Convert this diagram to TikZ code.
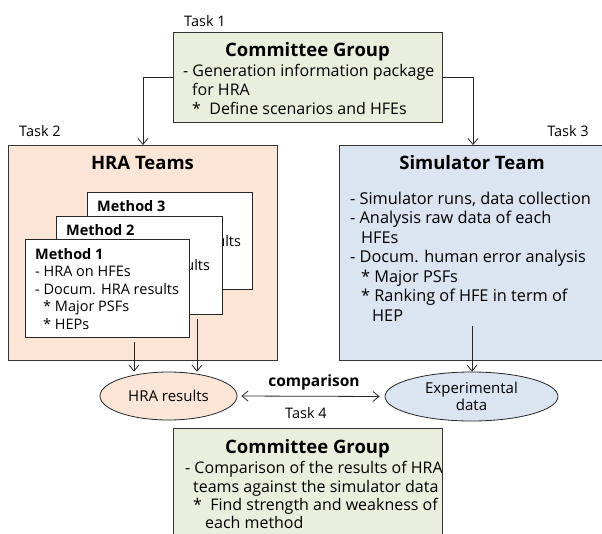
\documentclass[tikz,border=0pt]{standalone}
\usepackage{fontspec}
\setmainfont{Open Sans}
\usetikzlibrary{arrows.meta,shapes.geometric}
\definecolor{peach}{HTML}{FBE5D6}
\definecolor{lblue}{HTML}{DBE4F1}
\definecolor{lgreen}{HTML}{EAEEDC}
\newcommand\myfs[2]{\fontsize{#1}{#2}\selectfont}
\begin{document}
\begin{tikzpicture}[x=1pt,y=-1pt,
  box/.style={draw=black!80, line width=0.9pt, anchor=north west, inner sep=0pt},
  mbox/.style={draw=black!85, line width=0.8pt, fill=white, anchor=north west, inner sep=0pt},
  body/.style={align=left, anchor=north west, inner sep=0pt, font=\myfs{16}{18.6}},
  mbody/.style={align=left, anchor=north west, inner sep=0pt, font=\myfs{14.5}{17.5}},
  title/.style={anchor=base, inner sep=0pt, font=\bfseries\myfs{18.5}{22}},
  lbl/.style={anchor=base, inner sep=0pt, font=\myfs{14.5}{17}},
  arr/.style={-{Straight Barb[length=6pt,width=10pt]}, line width=0.8pt, draw=black!85},
  darr/.style={{Straight Barb[length=6pt,width=10pt]}-{Straight Barb[length=6pt,width=10pt]}, line width=0.8pt, draw=black!85},
  ell/.style={ellipse, draw=black!85, line width=0.8pt, inner sep=0pt, align=center, font=\myfs{15}{17}}
]
\useasboundingbox (0,0) rectangle (602,533);
\clip (0,0) rectangle (602,533);

% Task 1 box
\node[box, fill=lgreen, minimum width=269pt, minimum height=90pt] (top) at (173,32) {};
\node[lbl] (t1) at (205,26) {Task 1};
\node[title] (toptitle) at (307.5,56.6) {Committee Group};
\node[body] (topbody) at (183,64.5) {- Generation information package\\\hspace*{9pt}for HRA\\\hspace*{9pt}*\ \ Define scenarios and HFEs};

% HRA teams
\node[box, fill=peach, minimum width=269pt, minimum height=215pt] (hra) at (8,145) {};
\node[lbl] (t2) at (40,136) {Task 2};
\node[title] (hratitle) at (142.5,169.6) {HRA Teams};

\node[mbox, minimum width=165pt, minimum height=97pt] (m3) at (87,192) {};
\node[mbody] (m3t) at (97,200) {\textbf{Method 3}\\- HRA on HFEs\\- Docum. HRA results\\\hspace*{8pt}* Major PSFs\\\hspace*{8pt}* HEPs};
\node[mbox, minimum width=166pt, minimum height=98pt] (m2) at (56,216) {};
\node[mbody] (m2t) at (66,224) {\textbf{Method 2}\\- HRA on HFEs\\- Docum. HRA results\\\hspace*{8pt}* Major PSFs\\\hspace*{8pt}* HEPs};
\node[mbox, minimum width=164pt, minimum height=98pt] (m1) at (25,239) {};
\node[mbody] (m1t) at (35,248) {\textbf{Method 1}\\- HRA on HFEs\\- Docum. HRA results\\\hspace*{8pt}* Major PSFs\\\hspace*{8pt}* HEPs};

% Simulator team
\node[box, fill=lblue, minimum width=267pt, minimum height=215pt] (sim) at (339,145) {};
\node[lbl] (t3) at (568,136) {Task 3};
\node[title] (simtitle) at (472,169.6) {Simulator Team};
\node[body, font=\myfs{16.3}{19.5}] (simbody) at (350,191.5) {- Simulator runs, data collection\\- Analysis raw data of each\\\hspace*{11pt}HFEs\\- Docum. human error analysis\\\hspace*{11pt}* Major PSFs\\\hspace*{11pt}* Ranking of HFE in term of\\\hspace*{22pt}HEP};

% Ellipses
\node[ell, fill=peach, minimum width=137pt, minimum height=48pt] (hres) at (168.5,396) {HRA results};
\node[ell, fill=lblue, minimum width=173pt, minimum height=49pt] (exp) at (471.5,396.5) {Experimental\\data};
\node[anchor=base, inner sep=0pt, font=\bfseries\myfs{15.5}{18}] (cmp) at (314,386) {comparison};
\node[lbl] (t4) at (306,418) {Task 4};

% Task 4 box
\node[box, fill=lgreen, minimum width=269pt, minimum height=120pt] (bot) at (173,428) {};
\node[title] (bottitle) at (307.5,453.6) {Committee Group};
\node[body, font=\myfs{16}{18.2}] (botbody) at (185,461.5) {- Comparison of the results of HRA\\\hspace*{8pt}teams against the simulator data\\\hspace*{8pt}*\ \ Find strength and weakness of\\\hspace*{20pt}each method};

% connectors
\draw[arr] (top.west) -| (hra.north);
\draw[arr] (top.east) -| (sim.north);
\coordinate (m1out) at (134,342);
\coordinate (m2out) at (197,319);
\coordinate (simout) at (472,326);
\draw[arr] (m1out) -- (m1out |- hres.north);
\draw[arr] (m2out) -- (m2out |- hres.north);
\draw[arr] (simout) -- (simout |- exp.north);
\draw[darr, shorten <=4pt, shorten >=5pt] (hres.east) -- (exp.west);
\end{tikzpicture}
\end{document}
